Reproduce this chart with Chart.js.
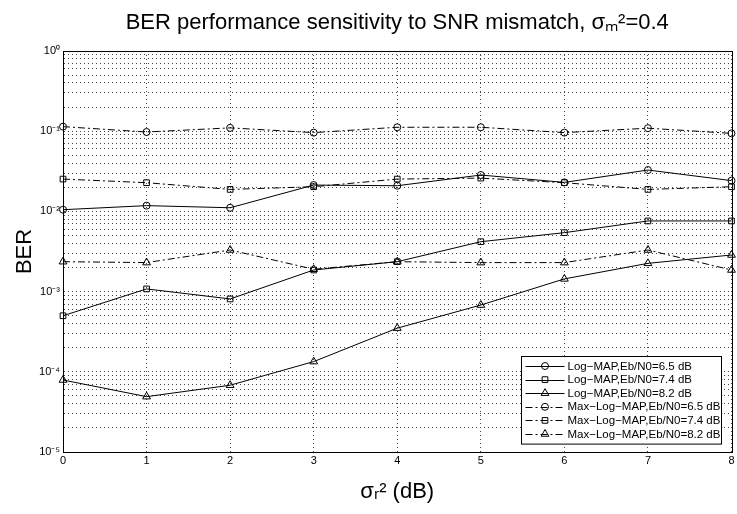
<!DOCTYPE html>
<html>
<head>
<meta charset="utf-8">
<title>BER sensitivity to SNR mismatch</title>
<script src="https://cdn.jsdelivr.net/npm/chart.js@4.4.0/dist/chart.umd.min.js"></script>
<style>
  html, body { margin: 0; padding: 0; background: #fff; }
</style>
</head>
<body>
<canvas id="ber-chart" width="737" height="514"></canvas>
<script>
// sigma_r^2 in dB
const SNR_MISMATCH = [0, 1, 2, 3, 4, 5, 6, 7, 8];

// BER values
const logMap65 = [1.05e-2, 1.18e-2, 1.11e-2, 2.13e-2, 2.09e-2, 2.84e-2, 2.3e-2, 3.28e-2, 2.42e-2];
const logMap74 = [5.0e-4, 1.08e-3, 8.1e-4, 1.86e-3, 2.36e-3, 4.19e-3, 5.43e-3, 7.6e-3, 7.6e-3];
const logMap82 = [7.9e-5, 4.9e-5, 6.8e-5, 1.34e-4, 3.5e-4, 6.8e-4, 1.44e-3, 2.25e-3, 2.86e-3];
const maxLogMap65 = [0.114, 0.0977, 0.11, 0.096, 0.112, 0.112, 0.096, 0.109, 0.094];
const maxLogMap74 = [0.0253, 0.0228, 0.0188, 0.0203, 0.0253, 0.026, 0.0228, 0.0188, 0.0203];
const maxLogMap82 = [2.36e-3, 2.3e-3, 3.3e-3, 1.9e-3, 2.36e-3, 2.3e-3, 2.3e-3, 3.3e-3, 1.86e-3];

const SERIES_LABELS = [
  "Log−MAP,Eb/N0=6.5 dB",
  "Log−MAP,Eb/N0=7.4 dB",
  "Log−MAP,Eb/N0=8.2 dB",
  "Max−Log−MAP,Eb/N0=6.5 dB",
  "Max−Log−MAP,Eb/N0=7.4 dB",
  "Max−Log−MAP,Eb/N0=8.2 dB",
];

const Y_DECADES = [1e-5, 1e-4, 1e-3, 1e-2, 1e-1, 1];
const Y_TICK_LABELS = ["10⁻⁵", "10⁻⁴", "10⁻³", "10⁻²", "10⁻¹", "10⁰"];

const FONT = "'Liberation Sans', Arial, Helvetica, sans-serif";
Chart.defaults.font.family = FONT;
Chart.defaults.color = "#000";

const DASH_DOT = [7, 3, 2, 3];
const GRID_COLOR = "#444";

const makeSet = (label, data, pointStyle, radius, dash) => ({
  label,
  data,
  borderColor: "#000",
  borderWidth: 1,
  borderDash: dash,
  backgroundColor: "rgba(0,0,0,0)",
  pointStyle,
  pointRadius: radius,
  pointBorderWidth: 1,
  pointBorderColor: "#000",
  pointBackgroundColor: "rgba(0,0,0,0)",
  tension: 0,
  fill: false,
  clip: false,
});

// box around the plot like matlab's axes
const framePlugin = {
  id: "frame",
  beforeDatasetsDraw(chart) {
    const { ctx, chartArea: a } = chart;
    ctx.save();
    ctx.strokeStyle = "#000";
    ctx.lineWidth = 1;
    ctx.strokeRect(Math.round(a.left) + 0.5, Math.round(a.top) + 0.5,
      Math.round(a.right - a.left), Math.round(a.bottom - a.top));
    ctx.restore();
  },
};

// legend box in the lower right corner of the plot
const insideLegend = {
  id: "insideLegend",
  afterDraw(chart) {
    const { ctx, chartArea: a } = chart;
    const sets = chart.data.datasets;
    const boxW = 200, rowH = 13.6;
    const boxH = sets.length * rowH + 6;
    const x0 = Math.round(a.right - 11 - boxW) + 0.5;
    const y0 = Math.round(a.bottom - 8 - boxH) + 0.5;
    ctx.save();
    ctx.fillStyle = "#fff";
    ctx.fillRect(x0, y0, boxW, boxH);
    ctx.strokeStyle = "#000";
    ctx.lineWidth = 1;
    ctx.strokeRect(x0, y0, boxW, boxH);
    ctx.font = "11.5px " + FONT;
    ctx.textBaseline = "middle";
    ctx.fillStyle = "#000";
    sets.forEach((ds, i) => {
      const y = y0 + 9.5 + i * rowH;
      ctx.setLineDash(ds.borderDash || []);
      ctx.beginPath();
      ctx.moveTo(x0 + 4, Math.round(y) + 0.5);
      ctx.lineTo(x0 + 43, Math.round(y) + 0.5);
      ctx.stroke();
      ctx.setLineDash([]);
      if (Chart.helpers && Chart.helpers.drawPoint) {
        ctx.fillStyle = "rgba(0,0,0,0)";
        Chart.helpers.drawPoint(ctx, {
          pointStyle: ds.pointStyle, rotation: 0,
          radius: ds.pointRadius, borderWidth: 1,
        }, x0 + 23.5, y);
      }
      ctx.fillStyle = "#000";
      ctx.fillText(ds.label, x0 + 46, y + 0.5);
    });
    ctx.restore();
  },
};

const ctx = document.getElementById("ber-chart").getContext("2d");
const berChart = new Chart(ctx, {
  type: "line",
  data: {
    labels: SNR_MISMATCH,
    datasets: [
      makeSet(SERIES_LABELS[0], logMap65, "circle", 3.5, []),
      makeSet(SERIES_LABELS[1], logMap74, "rect", 4, []),
      makeSet(SERIES_LABELS[2], logMap82, "triangle", 4.5, []),
      makeSet(SERIES_LABELS[3], maxLogMap65, "circle", 3.5, DASH_DOT),
      makeSet(SERIES_LABELS[4], maxLogMap74, "rect", 4, DASH_DOT),
      makeSet(SERIES_LABELS[5], maxLogMap82, "triangle", 4.5, DASH_DOT),
    ],
  },
  options: {
    responsive: false,
    animation: false,
    layout: { padding: { left: 0, right: 4, top: 0, bottom: 0 } },
    plugins: {
      legend: { display: false },
      tooltip: { enabled: false },
      title: {
        display: true,
        fullSize: false,
        text: "BER performance sensitivity to SNR mismatch, σₘ²=0.4",
        font: { size: 22, weight: "normal" },
        color: "#000",
        padding: { top: 10, bottom: 14.6 },
      },
    },
    scales: {
      x: {
        type: "category",
        offset: false,
        grid: { color: GRID_COLOR, drawTicks: false },
        border: { display: true, color: "#000", dash: [1, 3] },
        ticks: { font: { size: 11 }, padding: 2, maxRotation: 0, autoSkip: false },
        title: {
          display: true,
          text: "σᵣ² (dB)",
          font: { size: 22 },
          padding: { top: 0, bottom: 9 },
        },
        afterFit: (scale) => { scale.height = 62; },
      },
      y: {
        type: "logarithmic",
        min: 1e-5,
        max: 1,
        grid: { color: GRID_COLOR, drawTicks: false },
        border: { display: true, color: "#000", dash: [1, 3] },
        afterBuildTicks: (scale) => {
          const ticks = [];
          Y_DECADES.slice(0, -1).forEach((d) => {
            for (let m = 1; m <= 9; m++) ticks.push({ value: m * d });
          });
          ticks.push({ value: 1 });
          scale.ticks = ticks;
        },
        ticks: {
          autoSkip: false,
          font: { size: 11 },
          padding: 3,
          callback: (value) => {
            const idx = Y_DECADES.findIndex((d) => Math.abs(value / d - 1) < 1e-6);
            return idx >= 0 ? Y_TICK_LABELS[idx] : "";
          },
        },
        title: {
          display: true,
          text: "BER",
          font: { size: 22 },
          padding: { top: 12, bottom: 0 },
        },
        afterFit: (scale) => { scale.width = 63; },
      },
    },
  },
  plugins: [framePlugin, insideLegend],
});
</script>
</body>
</html>
